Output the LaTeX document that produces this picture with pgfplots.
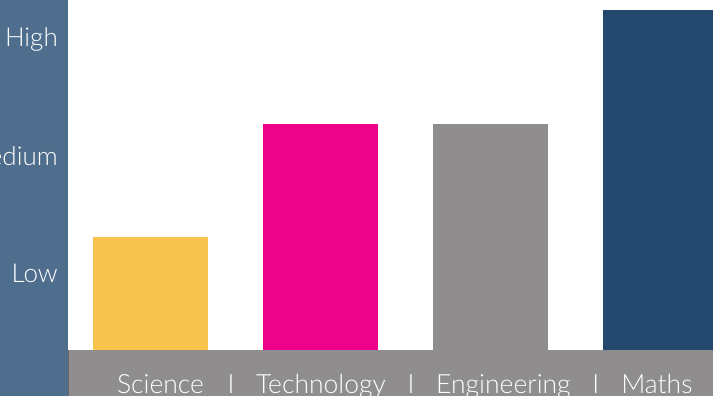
\documentclass[border=0pt]{standalone}
\usepackage{fontspec}
\setmainfont{Lato Light}
\usepackage{pgfplots}
\pgfplotsset{compat=1.18}
\definecolor{bandblue}{HTML}{4F6D8C}
\definecolor{bandgrey}{HTML}{8F8D8E}
\definecolor{sciyellow}{HTML}{F9C44E}
\definecolor{techpink}{HTML}{EC038A}
\definecolor{enggrey}{HTML}{8F8D8E}
\definecolor{mathnavy}{HTML}{24496F}
\begin{document}
\begin{tikzpicture}[x=1pt,y=1pt]
\useasboundingbox (0,0) rectangle (713,396);
\fill[bandblue] (0,0) rectangle (68,396);
\fill[bandgrey] (68,0) rectangle (713,46);
\draw[black!60, line width=0.8pt] (68,0) -- (68,46);
\begin{axis}[
  at={(68pt,46pt)}, anchor=south west,
  scale only axis, width=645pt, height=350pt,
  xmin=-0.4853, xmax=3.3088, ymin=0, ymax=350,
  ybar, bar width=115pt, bar shift=0pt,
  axis line style={draw=none}, major tick length=0pt,
  xtick={0.059,0.474,1.003,1.533,2.076,2.620,2.979},
  xticklabels={Science,I,Technology,I,Engineering,I,Maths},
  xticklabel style={font=\fontsize{26.5}{30}\selectfont, text=white, anchor=base, inner sep=0pt, yshift=-44pt},
  ytick={67,184,303},
  yticklabels={Low,Medium,High},
  yticklabel style={font=\fontsize{26}{30}\selectfont, text=white, anchor=base east, inner sep=0pt, xshift=-10pt},
  clip=true,
]
\addplot[fill=sciyellow, draw=none] coordinates {(0,113)};
\addplot[fill=techpink, draw=none] coordinates {(1,226)};
\addplot[fill=enggrey, draw=none] coordinates {(2,226)};
\addplot[fill=mathnavy, draw=none] coordinates {(3,340)};
\end{axis}
\end{tikzpicture}
\end{document}
